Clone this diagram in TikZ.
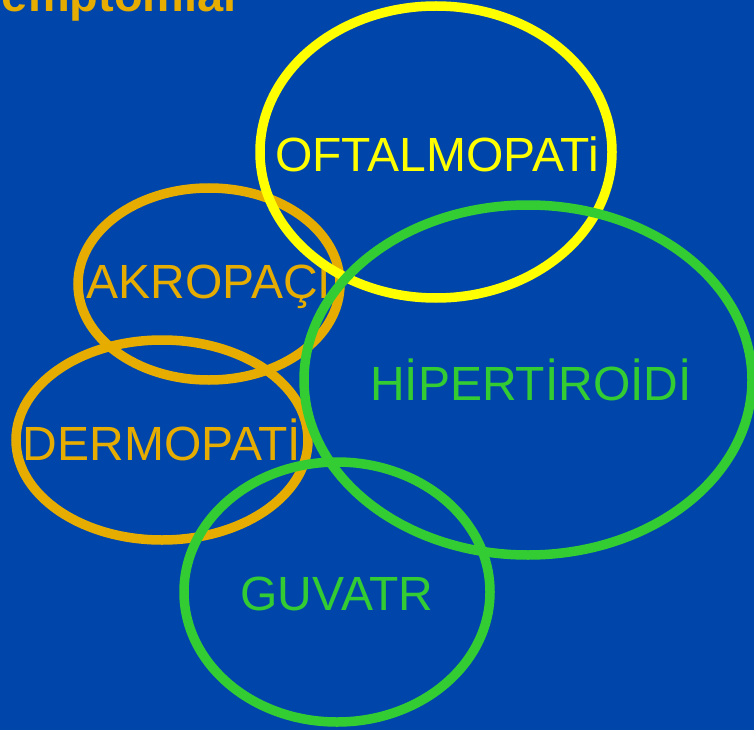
\documentclass[tikz,border=0pt]{standalone}
\usepackage{fontspec}
\setmainfont{Liberation Sans}
\usepackage{xcolor}
\definecolor{slideblue}{RGB}{0,70,170}
\definecolor{amber}{RGB}{230,173,0}
\definecolor{leaf}{RGB}{51,204,51}
\definecolor{lemon}{RGB}{255,255,0}

\begin{document}
\begin{tikzpicture}[x=1pt, y=-1pt,
    label/.style={inner sep=0pt, font=\fontsize{48}{48}\selectfont},
    ring/.style={line width=9.5pt},
  ]
    % slide frame
    \fill[slideblue] (0,0) rectangle (754,730);
    \clip (0,0) rectangle (754,730);
    \node[anchor=base west, text=amber, font=\fontsize{47}{47}\selectfont\bfseries] (title) at (-33,12) {Semptomlar};

    % skin findings
    \node[label, text=amber] (akro) at (209,287) {AKROPAÇI};
    \node[label, text=amber] (derm) at (162,440) {DERMOPATİ};
    \draw[ring, amber] (akro.center) ++(0,-3) ellipse [x radius=131, y radius=96];
    \draw[ring, amber] (derm.center) ellipse [x radius=146, y radius=100];

    % eye
    \node[label, text=lemon] (oft) at (437,154) {OFTALMOPATi};
    \draw[ring, lemon] (oft.center) ++(-1,-2) ellipse [x radius=176, y radius=146];

    % thyroid
    \node[label, text=leaf] (hiper) at (531,380) {HİPERTİROİDİ};
    \node[label, text=leaf] (guv) at (337,594) {GUVATR};
    \draw[ring, leaf] (hiper.center) ++(-3,0) ellipse [x radius=224, y radius=175];
    \draw[ring, leaf] (guv.center) ++(0,-2) ellipse [x radius=153, y radius=130];
\end{tikzpicture}
\end{document}
